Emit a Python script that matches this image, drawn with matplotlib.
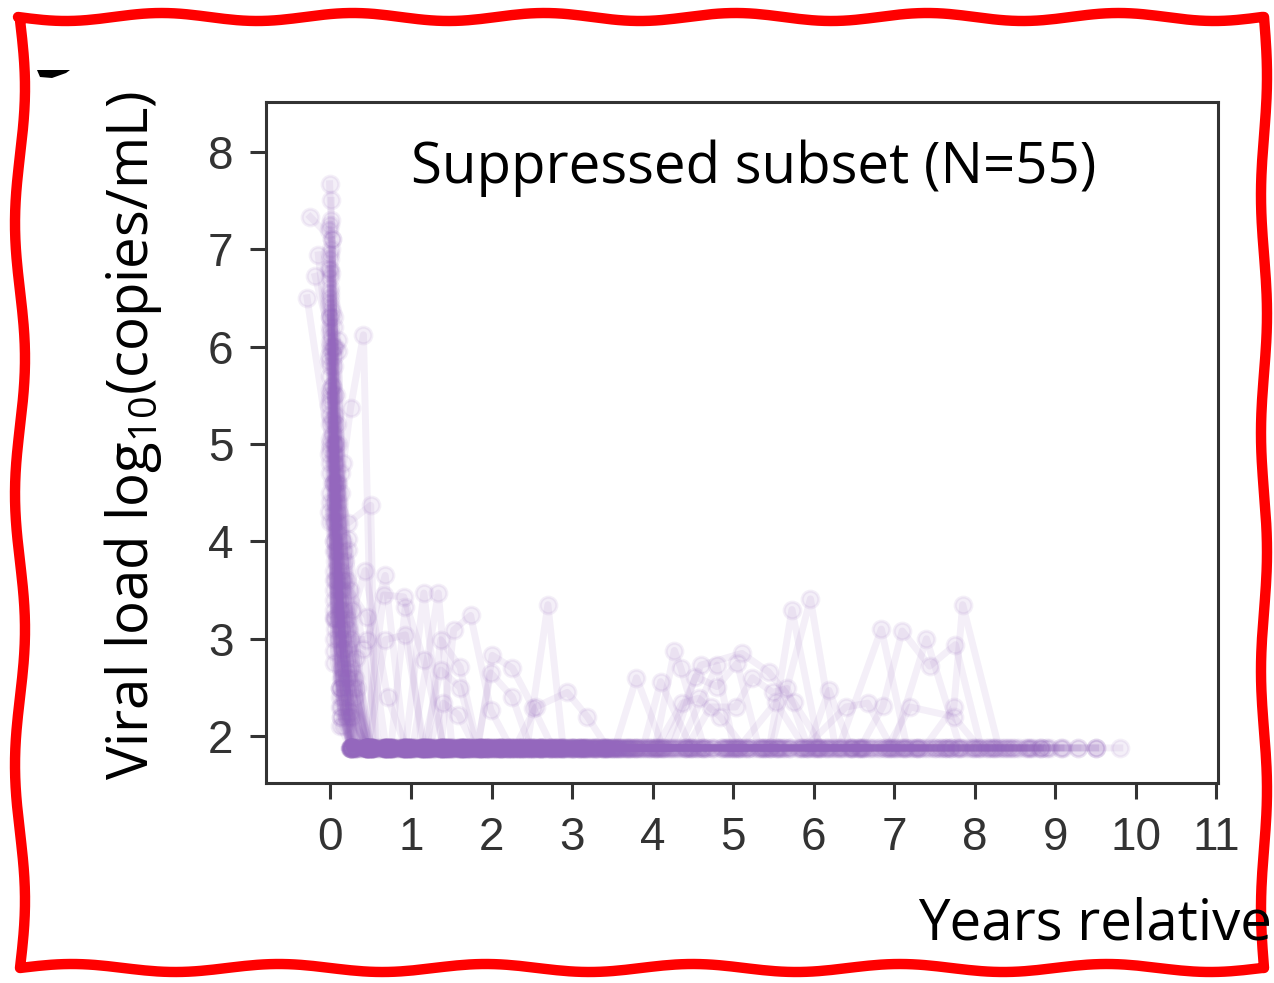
import numpy as np
import matplotlib
matplotlib.use("Agg")
import matplotlib.pyplot as plt
from matplotlib.lines import Line2D
from matplotlib.patches import Polygon

# ---------------- data: (years relative to ART start, log10 viral load) per patient -------------
p01 = [(-0.29,6.50),(0.05,4.6),(0.17,3.3),(0.3,2.6),(0.52,1.88),(0.77,1.88),(1.03,1.88),(1.31,1.88),(1.58,1.88),(1.86,1.88),(2.12,1.88),(2.41,1.88),(2.69,1.88),(2.98,1.88),(3.27,1.88)]
p02 = [(-0.25,7.33),(0.02,7.1),(0.08,5.2),(0.2,3.6),(0.44,1.88),(0.66,1.88),(0.89,1.88),(1.12,1.88),(1.36,1.88),(1.63,1.88),(1.92,1.88),(2.28,1.88),(2.63,1.88),(2.97,1.88)]
p03 = [(-0.19,6.72),(0.03,6.0),(0.1,4.2),(0.22,3.1),(0.43,3.70),(0.71,2.40),(0.94,1.88),(1.18,1.88),(1.42,1.88),(1.67,1.88),(1.95,1.88),(2.21,1.88)]
p04 = [(-0.02,6.8),(0.1,4.4),(0.25,5.37),(0.41,6.12),(0.53,1.88),(0.79,1.88),(1.04,1.88),(1.27,1.88),(1.52,1.88),(1.79,1.88),(2.07,1.88),(2.39,1.88),(2.72,1.88),(3.04,1.88),(3.41,1.88)]
p05 = [(0.0,6.3),(0.08,4.6),(0.22,4.19),(0.5,4.37),(0.56,1.88),(0.81,1.88),(1.06,1.88),(1.3,1.88),(1.55,1.88),(1.81,1.88),(2.06,1.88),(2.33,1.88),(2.58,1.88),(2.84,1.88),(3.11,1.88),(3.38,1.88),(3.63,1.88)]
p06 = [(-0.01,7.67),(0.05,6.2),(0.15,4.8),(0.27,3.3),(0.48,1.88),(0.73,1.88),(0.98,1.88),(1.22,1.88),(1.47,1.88),(1.73,1.88),(2.02,1.88),(2.31,1.88),(2.6,1.88),(2.91,1.88),(3.22,1.88),(3.55,1.88),(3.93,1.88),(4.42,1.88),(4.96,1.88),(5.47,1.88),(5.98,1.88),(6.49,1.88),(7.02,1.88),(7.53,1.88),(8.04,1.88),(8.47,1.88),(8.93,1.88),(9.28,1.88),(9.5,1.88),(9.8,1.88)]
p07 = [(-0.15,6.94),(0.02,5.6),(0.08,4.5),(0.16,3.6),(0.46,3.22),(0.69,1.88),(0.93,1.88),(1.16,3.47),(1.39,1.88),(1.64,1.88),(1.94,1.88),(2.27,1.88),(2.62,1.88),(2.95,1.88),(3.3,1.88),(3.68,1.88),(4.03,1.88),(4.27,2.88),(4.35,2.70),(4.64,1.88),(5.08,1.88),(5.52,1.88),(6.03,1.88),(6.55,1.88),(7.08,1.88),(7.62,1.88),(8.13,1.88),(8.67,1.88),(9.07,1.88)]
p08 = [(0.01,7.5),(0.05,5.9),(0.13,4.5),(0.26,3.0),(0.46,2.99),(0.68,3.65),(0.92,1.88),(1.15,1.88),(1.4,1.88),(1.66,1.88),(1.9,1.88),(2.16,1.88),(2.43,1.88),(2.7,1.88)]
p09 = [(0.01,7.3),(0.07,5.5),(0.17,3.9),(0.32,2.8),(0.51,1.88),(0.76,1.88),(1.02,1.88),(1.34,3.47),(1.51,1.88),(1.77,1.88),(2.04,1.88),(2.3,1.88),(2.57,1.88),(2.86,1.88),(3.16,1.88),(3.47,1.88),(3.82,1.88),(4.22,1.88),(4.68,1.88),(5.18,1.88),(5.45,1.88),(5.73,3.30),(6.07,1.88),(6.58,1.88),(7.1,1.88),(7.58,1.88),(7.99,1.88),(8.22,1.88)]
p10 = [(-0.01,7.25),(0.06,6.0),(0.13,4.7),(0.24,3.5),(0.43,1.88),(0.66,3.45),(0.91,3.43),(1.16,2.78),(1.41,1.88),(1.66,1.88),(1.91,1.88),(2.18,1.88),(2.47,1.88),(2.76,1.88),(3.07,1.88),(3.39,1.88)]
p11 = [(-0.02,7.2),(0.04,6.3),(0.1,5.0),(0.22,3.91),(0.45,1.88),(0.67,1.88),(0.9,1.88),(1.13,1.88),(1.38,1.88),(1.62,1.88),(1.87,1.88),(2.11,1.88),(2.37,1.88),(2.64,1.88),(2.9,1.88),(3.18,1.88),(3.52,1.88),(3.91,1.88),(4.33,1.88),(4.8,2.73),(5.01,1.88),(5.47,1.88),(5.96,3.41),(6.27,1.88),(6.62,1.88),(7.05,1.88),(7.51,1.88),(7.97,1.88),(8.46,1.88)]
p12 = [(0.02,7.1),(0.05,5.8),(0.1,4.3),(0.22,4.02),(0.4,2.9),(0.61,1.88),(0.84,1.88),(1.08,1.88),(1.34,1.88),(1.6,1.88),(1.85,1.88),(2.13,1.88)]
p13 = [(0.01,7.0),(0.06,5.3),(0.13,3.8),(0.22,2.65),(0.47,1.88),(0.68,2.99),(0.93,3.04),(1.17,1.88),(1.43,1.88),(1.68,1.88),(1.93,1.88),(2.19,1.88),(2.44,1.88),(2.7,3.35),(2.89,1.88),(3.23,1.88),(3.58,1.88),(3.97,1.88),(4.39,1.88),(4.87,1.88),(5.34,1.88),(5.82,1.88),(6.31,1.88),(6.84,3.10),(7.16,1.88),(7.57,1.88),(8.03,1.88),(8.43,1.88),(8.82,1.88)]
p14 = [(-0.01,6.95),(0.04,6.0),(0.1,4.6),(0.2,3.2),(0.35,1.88),(0.55,1.88),(0.75,1.88),(0.93,3.33),(1.14,1.88),(1.37,1.88),(1.53,3.09),(1.74,3.24),(1.99,2.27),(2.24,1.88),(2.49,1.88),(2.78,1.88),(3.06,1.88),(3.34,1.88)]
p15 = [(-0.01,6.9),(0.05,5.2),(0.12,3.5),(0.26,1.88),(0.5,1.88),(0.74,1.88),(0.97,1.88),(1.2,1.88),(1.37,2.99),(1.61,2.71),(1.83,1.88),(2.01,2.83),(2.26,2.70),(2.52,2.29),(2.76,1.88),(3.01,1.88),(3.26,1.88),(3.53,1.88),(3.8,2.60),(4.13,1.88),(4.55,1.88),(5.06,1.88),(5.58,1.88),(6.09,1.88),(6.6,1.88),(7.12,1.88),(7.63,1.88),(7.99,1.88)]
p16 = [(0.0,6.8),(0.06,5.0),(0.14,3.6),(0.25,2.25),(0.46,1.88),(0.69,1.88),(0.92,1.88),(1.15,1.88),(1.37,2.68),(1.61,2.50),(1.82,1.88),(1.99,2.65),(2.26,2.40),(2.48,1.88),(2.73,1.88),(2.99,1.88),(3.28,1.88),(3.6,1.88),(3.88,1.88),(4.1,2.56),(4.48,1.88),(4.99,1.88),(5.53,1.88),(6.04,1.88),(6.52,1.88),(6.98,1.88),(7.4,3.00),(7.82,1.88),(8.24,1.88),(8.67,1.88)]
p17 = [(0.01,6.75),(0.04,2.75),(0.27,1.88),(0.52,1.88),(0.76,1.88),(1.01,1.88),(1.22,1.88),(1.4,2.34),(1.59,2.22),(1.8,1.88),(2.03,1.88),(2.29,1.88),(2.55,1.88)]
p18 = [(0.0,6.7),(0.04,3.22),(0.15,2.9),(0.31,1.88),(0.53,1.88),(0.78,1.88),(1.03,1.88),(1.28,1.88),(1.53,1.88),(1.78,1.88),(2.04,1.88),(2.29,1.88),(2.55,2.30),(2.94,2.45),(3.19,2.20),(3.44,1.88),(3.72,1.88),(4.04,1.88),(4.37,2.34),(4.57,2.39),(4.84,2.20),(5.14,1.88),(5.56,1.88),(6.01,1.88),(6.47,1.88),(6.94,1.88),(7.45,1.88)]
p19 = [(0.0,6.6),(0.04,2.88),(0.12,2.5),(0.24,1.88),(0.45,1.88),(0.7,1.88),(0.95,1.88),(1.19,1.88),(1.45,1.88),(1.71,1.88),(1.97,1.88),(2.22,1.88),(2.5,1.88),(2.79,1.88),(3.09,1.88),(3.37,1.88),(3.66,1.88),(3.96,1.88),(4.24,1.88),(4.53,2.61),(4.8,2.51),(5.05,2.75),(5.32,1.88),(5.63,1.88),(6.06,1.88),(6.44,1.88),(6.89,1.88),(7.27,1.88),(7.66,1.88)]
p20 = [(-0.01,6.55),(0.05,5.0),(0.11,3.7),(0.22,2.6),(0.47,1.88),(0.7,1.88),(0.94,1.88),(1.17,1.88),(1.41,1.88),(1.65,1.88),(1.89,1.88),(2.14,1.88),(2.39,1.88),(2.65,1.88),(2.92,1.88),(3.2,1.88),(3.48,1.88),(3.77,1.88),(4.15,1.88),(4.6,2.73),(5.11,2.85),(5.44,2.66),(5.75,2.35),(6.12,1.88),(6.56,1.88),(7.01,1.88),(7.49,1.88),(7.93,1.88),(8.38,1.88),(8.82,1.88),(9.28,1.88)]
p21 = [(0.0,6.5),(0.06,4.8),(0.14,3.5),(0.3,1.88),(0.51,1.88),(0.74,1.88),(0.99,1.88),(1.24,1.88),(1.49,1.88),(1.74,1.88),(1.98,1.88),(2.24,1.88),(2.51,1.88),(2.81,1.88),(3.12,1.88),(3.43,1.88),(3.74,1.88),(4.09,1.88),(4.42,1.88),(4.72,2.30),(5.03,2.30),(5.24,2.60),(5.49,2.45),(5.67,2.49),(5.93,1.88),(6.19,2.47),(6.46,1.88),(6.93,1.88),(7.41,1.88),(7.88,1.88),(8.33,1.88),(8.9,1.88),(9.5,1.88)]
p22 = [(0.01,6.4),(0.05,5.1),(0.1,3.9),(0.2,2.8),(0.4,1.88),(0.6,1.88),(0.82,1.88),(1.05,1.88),(1.29,1.88),(1.54,1.88),(1.79,1.88),(2.05,1.88),(2.32,1.88),(2.58,1.88),(2.83,1.88),(3.13,1.88),(3.45,1.88),(3.79,1.88),(4.18,1.88),(4.61,1.88),(5.07,1.88),(5.53,2.35),(5.89,1.88),(6.4,2.30),(6.67,2.34),(6.97,1.88),(7.37,1.88),(7.74,2.30),(7.85,3.35),(8.3,1.88),(8.62,1.88)]
p23 = [(0.02,6.35),(0.06,4.9),(0.13,3.4),(0.25,2.7),(0.46,1.88),(0.68,1.88),(0.91,1.88),(1.14,1.88),(1.39,1.88),(1.63,1.88),(1.88,1.88),(2.12,1.88),(2.36,1.88),(2.62,1.88),(2.88,1.88),(3.15,1.88),(3.42,1.88),(3.71,1.88),(4.07,1.88),(4.46,1.88),(4.91,1.88),(5.38,1.88),(5.84,1.88),(6.25,1.88),(6.58,1.88),(6.86,2.31),(7.1,3.08),(7.44,2.72),(7.76,2.94),(8.08,1.88),(8.51,1.88),(8.82,1.88)]
p24 = [(0.0,6.3),(0.04,5.5),(0.1,4.1),(0.22,2.9),(0.45,1.88),(0.67,1.88),(0.9,1.88),(1.13,1.88),(1.36,1.88),(1.6,1.88),(1.84,1.88),(2.09,1.88),(2.34,1.88),(2.61,1.88),(2.87,1.88),(3.17,1.88),(3.49,1.88),(3.83,1.88),(4.2,1.88),(4.63,1.88),(5.09,1.88),(5.57,1.88),(6.02,1.88),(6.47,1.88),(6.91,1.88),(7.2,2.30),(7.74,2.20),(8.06,1.88),(8.41,1.88),(8.78,1.88),(9.07,1.88)]
p25 = [(-0.01,6.2),(0.05,4.7),(0.12,3.3),(0.24,1.88),(0.49,1.88),(0.72,1.88),(0.96,1.88),(1.21,1.88),(1.46,1.88),(1.7,1.88),(1.95,1.88),(2.22,1.88),(2.48,1.88),(2.74,1.88),(3.02,1.88),(3.29,1.88),(3.57,1.88)]
p26 = [(0.0,6.15),(0.09,6.07),(0.16,4.0),(0.31,2.4),(0.52,1.88),(0.77,1.88),(1.0,1.88),(1.26,1.88),(1.5,1.88),(1.76,1.88),(2.01,1.88),(2.27,1.88),(2.53,1.88),(2.8,1.88),(3.08,1.88),(3.36,1.88),(3.66,1.88),(4.02,1.88),(4.51,1.88),(5.04,1.88),(5.61,1.88),(6.15,1.88),(6.7,1.88),(7.26,1.88),(7.81,1.88),(8.36,1.88),(8.88,1.88)]
p27 = [(0.01,6.1),(0.1,5.95),(0.18,3.8),(0.33,2.5),(0.48,1.88),(0.7,1.88),(0.93,1.88),(1.16,1.88),(1.39,1.88),(1.62,1.88),(1.86,1.88),(2.1,1.88),(2.35,1.88),(2.6,1.88),(2.86,1.88),(3.12,1.88),(3.38,1.88)]
p28 = [(0.0,6.0),(0.06,4.5),(0.14,3.2),(0.26,1.88),(0.47,1.88),(0.69,1.88),(0.92,1.88),(1.16,1.88),(1.41,1.88),(1.64,1.88),(1.87,1.88),(2.11,1.88)]
p29 = [(0.01,5.95),(0.05,4.6),(0.14,3.0),(0.28,1.88),(0.5,1.88),(0.73,1.88),(0.97,1.88),(1.2,1.88),(1.44,1.88),(1.69,1.88),(1.93,1.88),(2.18,1.88),(2.44,1.88),(2.71,1.88),(2.99,1.88),(3.24,1.88),(3.51,1.88),(3.85,1.88),(4.3,1.88),(4.77,1.88),(5.26,1.88),(5.79,1.88),(6.3,1.88)]
p30 = [(-0.02,5.9),(0.05,4.4),(0.13,3.1),(0.24,2.2),(0.44,1.88),(0.66,1.88),(0.88,1.88),(1.11,1.88),(1.35,1.88),(1.58,1.88),(1.82,1.88),(2.07,1.88),(2.33,1.88),(2.6,1.88),(2.88,1.88),(3.16,1.88),(3.44,1.88),(3.7,1.88),(4.06,1.88),(4.5,1.88),(4.97,1.88),(5.42,1.88),(5.92,1.88),(6.4,1.88),(6.87,1.88),(7.33,1.88)]
p31 = [(0.0,5.8),(0.04,4.9),(0.1,3.6),(0.2,2.6),(0.36,1.88),(0.55,1.88),(0.78,1.88),(1.01,1.88),(1.25,1.88),(1.5,1.88),(1.74,1.88),(2.0,1.88),(2.26,1.88),(2.52,1.88),(2.77,1.88),(3.03,1.88)]
p32 = [(0.0,5.7),(0.06,4.3),(0.15,2.9),(0.29,1.88),(0.46,1.88),(0.68,1.88),(0.91,1.88),(1.14,1.88),(1.38,1.88),(1.61,1.88),(1.85,1.88),(2.09,1.88),(2.34,1.88),(2.59,1.88),(2.85,1.88),(3.14,1.88),(3.45,1.88),(3.8,1.88),(4.25,1.88),(4.74,1.88),(5.22,1.88),(5.71,1.88),(6.2,1.88),(6.72,1.88),(7.22,1.88),(7.7,1.88)]
p33 = [(0.02,5.6),(0.05,4.2),(0.14,2.8),(0.27,1.88),(0.5,1.88),(0.74,1.88),(0.98,1.88),(1.23,1.88),(1.47,1.88),(1.72,1.88),(1.97,1.88),(2.23,1.88),(2.5,1.88),(2.75,1.88)]
p34 = [(0.0,5.5),(0.05,4.0),(0.13,2.7),(0.25,1.88),(0.45,1.88),(0.67,1.88),(0.89,1.88),(1.12,1.88),(1.36,1.88),(1.59,1.88),(1.83,1.88),(2.08,1.88),(2.34,1.88),(2.61,1.88),(2.89,1.88),(3.19,1.88),(3.5,1.88),(3.79,1.88),(4.12,1.88),(4.57,1.88),(5.01,1.88),(5.46,1.88),(5.9,1.88),(6.35,1.88),(6.82,1.88),(7.3,1.88),(7.77,1.88),(8.17,1.88),(8.55,1.88)]
p35 = [(0.0,5.45),(0.06,4.1),(0.16,3.0),(0.32,1.88),(0.52,1.88),(0.76,1.88),(1.01,1.88),(1.27,1.88),(1.52,1.88),(1.78,1.88),(2.03,1.88),(2.28,1.88),(2.54,1.88),(2.82,1.88),(3.1,1.88),(3.32,1.88),(3.55,1.88)]
p36 = [(-0.02,5.4),(0.04,4.6),(0.1,3.4),(0.21,2.5),(0.44,1.88),(0.67,1.88),(0.9,1.88),(1.13,1.88),(1.37,1.88),(1.62,1.88),(1.86,1.88)]
p37 = [(0.0,5.3),(0.05,3.9),(0.13,2.6),(0.26,1.88),(0.51,1.88),(0.75,1.88),(0.99,1.88),(1.24,1.88),(1.48,1.88),(1.73,1.88),(1.99,1.88),(2.25,1.88),(2.51,1.88),(2.79,1.88),(3.08,1.88),(3.4,1.88),(3.74,1.88),(4.12,1.88),(4.61,1.88),(5.13,1.88),(5.65,1.88),(6.16,1.88),(6.68,1.88),(7.19,1.88),(7.7,1.88)]
p38 = [(0.0,5.2),(0.06,3.8),(0.15,2.4),(0.3,1.88),(0.47,1.88),(0.7,1.88),(0.93,1.88),(1.17,1.88),(1.41,1.88),(1.65,1.88),(1.89,1.88),(2.13,1.88),(2.38,1.88),(2.64,1.88)]
p39 = [(0.02,5.1),(0.05,3.7),(0.12,2.5),(0.25,1.88),(0.48,1.88),(0.72,1.88),(0.97,1.88),(1.21,1.88),(1.45,1.88),(1.7,1.88),(1.94,1.88),(2.2,1.88),(2.46,1.88),(2.73,1.88),(3.0,1.88),(3.27,1.88),(3.57,1.88),(3.9,1.88),(4.35,1.88),(4.85,1.88),(5.34,1.88),(5.86,1.88),(6.36,1.88)]
p40 = [(0.0,5.05),(0.04,4.2),(0.1,3.2),(0.22,2.3),(0.45,1.88),(0.69,1.88),(0.92,1.88),(1.16,1.88),(1.39,1.88),(1.63,1.88),(1.87,1.88),(2.12,1.88),(2.37,1.88)]
p41 = [(0.0,5.0),(0.06,3.6),(0.14,2.6),(0.27,1.88),(0.5,1.88),(0.73,1.88),(0.96,1.88),(1.19,1.88),(1.43,1.88),(1.67,1.88),(1.92,1.88),(2.17,1.88),(2.42,1.88),(2.69,1.88),(2.96,1.88),(3.25,1.88),(3.54,1.88),(3.86,1.88),(4.28,1.88),(4.74,1.88),(5.19,1.88),(5.68,1.88),(6.17,1.88),(6.63,1.88),(7.14,1.88),(7.66,1.88),(8.16,1.88),(8.7,1.88),(9.1,1.88),(9.5,1.88)]
p42 = [(-0.02,4.9),(0.05,3.5),(0.12,2.4),(0.24,1.88),(0.46,1.88),(0.68,1.88),(0.91,1.88),(1.15,1.88),(1.38,1.88),(1.62,1.88),(1.86,1.88),(2.1,1.88),(2.36,1.88),(2.62,1.88),(2.87,1.88),(3.13,1.88)]
p43 = [(0.0,4.8),(0.04,4.0),(0.1,3.0),(0.2,2.2),(0.4,1.88),(0.62,1.88),(0.86,1.88),(1.1,1.88),(1.35,1.88),(1.6,1.88)]
p44 = [(0.0,4.7),(0.05,3.4),(0.13,2.3),(0.25,1.88),(0.49,1.88),(0.73,1.88),(0.97,1.88),(1.22,1.88),(1.46,1.88),(1.71,1.88),(1.96,1.88),(2.21,1.88),(2.47,1.88),(2.74,1.88),(3.01,1.88),(3.3,1.88),(3.62,1.88),(4.0,1.88),(4.45,1.88),(4.92,1.88),(5.38,1.88)]
p45 = [(0.02,4.6),(0.05,3.3),(0.13,2.2),(0.25,1.88),(0.46,1.88),(0.69,1.88),(0.92,1.88),(1.15,1.88),(1.39,1.88),(1.63,1.88),(1.87,1.88),(2.12,1.88),(2.38,1.88),(2.64,1.88),(2.9,1.88),(3.16,1.88),(3.42,1.88),(3.67,1.88)]
p46 = [(0.0,4.5),(0.06,3.2),(0.15,2.1),(0.3,1.88),(0.53,1.88),(0.77,1.88),(1.0,1.88),(1.25,1.88),(1.5,1.88),(1.75,1.88),(2.0,1.88)]
p47 = [(0.0,6.05),(0.05,4.4),(0.14,3.1),(0.27,2.2),(0.46,1.88),(0.68,1.88),(0.91,1.88),(1.14,1.88),(1.38,1.88),(1.63,1.88),(1.88,1.88),(2.14,1.88),(2.4,1.88),(2.66,1.88),(2.92,1.88),(3.2,1.88),(3.49,1.88),(3.78,1.88),(4.14,1.88),(4.66,1.88),(5.17,1.88),(5.7,1.88),(6.22,1.88),(6.76,1.88),(7.29,1.88),(7.83,1.88),(8.25,1.88)]
p48 = [(-0.02,5.85),(0.04,4.8),(0.1,3.5),(0.22,2.4),(0.44,1.88),(0.66,1.88),(0.89,1.88),(1.12,1.88),(1.36,1.88),(1.6,1.88),(1.84,1.88),(2.08,1.88),(2.33,1.88),(2.58,1.88),(2.84,1.88)]
p49 = [(0.0,6.45),(0.06,5.0),(0.14,3.7),(0.28,2.5),(0.5,1.88),(0.74,1.88),(0.98,1.88),(1.23,1.88),(1.48,1.88),(1.72,1.88),(1.97,1.88),(2.24,1.88),(2.52,1.88),(2.8,1.88),(3.1,1.88),(3.41,1.88),(3.72,1.88),(4.08,1.88),(4.55,1.88),(5.04,1.88),(5.55,1.88),(6.06,1.88),(6.6,1.88),(7.14,1.88),(7.69,1.88),(8.2,1.88),(8.65,1.88)]
p50 = [(0.0,5.55),(0.05,4.3),(0.13,3.3),(0.22,2.25),(0.45,1.88),(0.68,1.88),(0.92,1.88),(1.16,1.88),(1.4,1.88),(1.64,1.88),(1.88,1.88),(2.14,1.88),(2.4,1.88),(2.66,1.88)]
p51 = [(0.02,5.25),(0.06,3.9),(0.16,2.7),(0.32,1.88),(0.52,1.88),(0.75,1.88),(0.99,1.88),(1.23,1.88),(1.47,1.88),(1.72,1.88),(1.98,1.88),(2.25,1.88),(2.53,1.88),(2.81,1.88),(3.09,1.88),(3.39,1.88),(3.69,1.88),(4.04,1.88),(4.48,1.88),(4.94,1.88),(5.41,1.88),(5.94,1.88),(6.45,1.88),(6.95,1.88)]
p52 = [(0.0,4.95),(0.05,3.6),(0.12,2.5),(0.25,1.88),(0.47,1.88),(0.7,1.88),(0.94,1.88),(1.18,1.88),(1.42,1.88),(1.66,1.88)]
p53 = [(0.0,4.4),(0.05,3.2),(0.12,2.3),(0.25,1.88),(0.48,1.88),(0.71,1.88),(0.95,1.88),(1.19,1.88),(1.44,1.88),(1.69,1.88),(1.95,1.88),(2.21,1.88),(2.47,1.88),(2.74,1.88),(3.02,1.88),(3.31,1.88),(3.6,1.88),(3.95,1.88),(4.4,1.88),(4.86,1.88),(5.31,1.88)]
p54 = [(-0.02,4.3),(0.06,3.1),(0.13,2.2),(0.3,1.88),(0.49,1.88),(0.72,1.88),(0.95,1.88),(1.18,1.88),(1.42,1.88),(1.66,1.88),(1.9,1.88),(2.15,1.88),(2.4,1.88)]
p55 = [(0.0,4.2),(0.05,3.0),(0.12,2.1),(0.25,1.88),(0.5,1.88),(0.73,1.88),(0.96,1.88),(1.2,1.88),(1.45,1.88),(1.69,1.88),(1.94,1.88),(2.2,1.88),(2.46,1.88),(2.73,1.88),(3.01,1.88),(3.31,1.88),(3.61,1.88),(3.98,1.88),(4.43,1.88),(4.9,1.88),(5.37,1.88),(5.85,1.88),(6.33,1.88),(6.81,1.88),(7.3,1.88),(7.78,1.88),(8.26,1.88),(8.72,1.88)]

x_ticks = [0, 1, 2, 3, 4, 5, 6, 7, 8, 9, 10, 11]
y_ticks = [2, 3, 4, 5, 6, 7, 8]
title_text = "Suppressed subset (N=55)"
ylabel_text = "Viral load log$_{\\mathregular{10}}$(copies/mL)"
xlabel_text = "Years relative"

patients = [p01, p02, p03, p04, p05, p06, p07, p08, p09, p10, p11, p12, p13, p14, p15,
            p16, p17, p18, p19, p20, p21, p22, p23, p24, p25, p26, p27, p28, p29, p30,
            p31, p32, p33, p34, p35, p36, p37, p38, p39, p40, p41, p42, p43, p44, p45,
            p46, p47, p48, p49, p50, p51, p52, p53, p54, p55]

# ---------------- style ----------------
plt.rcParams["mathtext.fontset"] = "custom"
plt.rcParams["mathtext.rm"] = "Open Sans"
PURPLE = "#9467bd"
AX_COL = "#333333"
LABEL_FONT = "Open Sans"
TICK_FONT = "Liberation Sans"

W, H = 1274, 983
fig = plt.figure(figsize=(W / 100, H / 100), dpi=100)
fig.patch.set_facecolor("white")
ax = fig.add_axes([266 / W, 1 - 783 / H, (1218 - 266) / W, (783 - 102) / H])

for pts in patients:
    t = [p[0] for p in pts]
    v = [p[1] for p in pts]
    ax.plot(t, v, "-o", color=PURPLE, alpha=0.1, lw=5, ms=12, mew=2.2,
            mfc=PURPLE, mec=PURPLE)

ax.set_xlim(-0.8, 11.02)
ax.set_ylim(1.52, 8.51)
ax.set_xticks(x_ticks)
ax.set_yticks(y_ticks)
for s in ax.spines.values():
    s.set_color(AX_COL)
    s.set_linewidth(2.2)
ax.tick_params(direction="out", length=11.5, width=2.2, colors=AX_COL,
               labelsize=33, pad=12)
for lab in ax.get_xticklabels() + ax.get_yticklabels():
    lab.set_fontfamily(TICK_FONT)
    lab.set_color(AX_COL)

# texts
fig.text(754 / W, 1 - 183 / H, title_text, ha="center", va="baseline",
         fontsize=40.6, family=LABEL_FONT, color="black")
fig.text(133 / W, 1 - 435 / H, ylabel_text, ha="center", va="center",
         rotation=90, fontsize=40.6, family=LABEL_FONT, color="black")
fig.text(918 / W, 1 - 940 / H, xlabel_text, ha="left", va="baseline",
         fontsize=40.6, family=LABEL_FONT, color="black")

# cropped panel-letter fragment at top-left
frag = Polygon([(37 / W, 1 - 70 / H), (70 / W, 1 - 70 / H), (66 / W, 1 - 73 / H),
                (52 / W, 1 - 78 / H), (40 / W, 1 - 77 / H)],
               closed=True, transform=fig.transFigure, color="black", lw=0)
fig.add_artist(frag)

# hand-drawn red frame
n = 200
s = np.linspace(0, 1, n)
top_x = 18 + s * (1262 - 18)
top_y = 17 + 4 * np.sin(s * 2 * np.pi * 6.5)
right_y = 17 + s * (968 - 17)
right_x = 1264 + 3 * np.sin(s * 2 * np.pi * 4)
bot_x = 1262 - s * (1262 - 20)
bot_y = 968 + 4 * np.sin(s * 2 * np.pi * 6)
left_y = 968 - s * (968 - 20)
left_x = 20 + 5 * np.sin(s * 2 * np.pi * 3.5)
fx = np.concatenate([top_x, right_x, bot_x, left_x])
fy = np.concatenate([top_y, right_y, bot_y, left_y])
frame = Line2D(fx / W, 1 - fy / H, transform=fig.transFigure, color="#ff0000",
               lw=7.5, solid_joinstyle="round", solid_capstyle="round")
fig.add_artist(frame)

fig.savefig("out.png", dpi=100, facecolor="white")
